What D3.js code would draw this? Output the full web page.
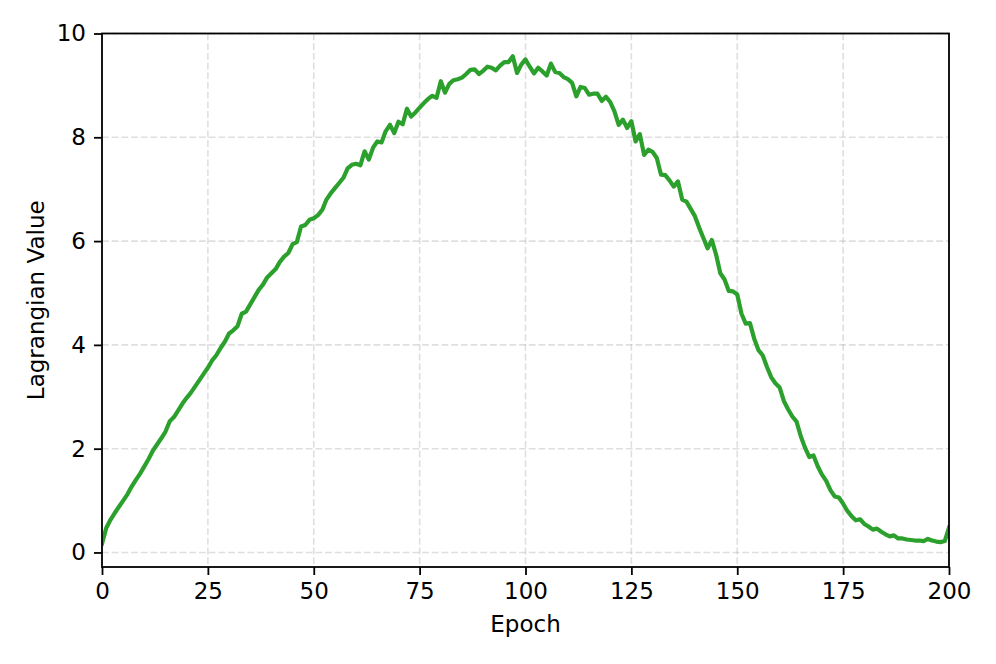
<!DOCTYPE html>
<html>
<head>
<meta charset="utf-8">
<script src="https://cdn.jsdelivr.net/npm/d3@7"></script>
<style>
  html, body { margin: 0; padding: 0; background: #fff; }
  svg { display: block; }
  text { font-family: "DejaVu Sans", sans-serif; fill: #000; }
</style>
</head>
<body>
<svg id="chart" width="996" height="664"></svg>
<script>
// ---- data ----
const epochs = d3.range(0, 201);
const lagrangian = [
  0.17, 0.47, 0.63, 0.76, 0.88, 1.00, 1.12, 1.27, 1.40, 1.52,
  1.66, 1.80, 1.96, 2.08, 2.20, 2.33, 2.53, 2.61, 2.74, 2.87,
  2.98, 3.08, 3.20, 3.32, 3.44, 3.56, 3.70, 3.80, 3.94, 4.06,
  4.22, 4.28, 4.36, 4.60, 4.64, 4.78, 4.92, 5.06, 5.16, 5.30,
  5.38, 5.46, 5.60, 5.70, 5.77, 5.94, 5.98, 6.28, 6.31, 6.41,
  6.44, 6.50, 6.60, 6.80, 6.92, 7.02, 7.12, 7.22, 7.40, 7.47,
  7.49, 7.46, 7.73, 7.57, 7.80, 7.92, 7.90, 8.12, 8.24, 8.08,
  8.30, 8.25, 8.55, 8.40, 8.48, 8.57, 8.66, 8.74, 8.80, 8.76,
  9.08, 8.86, 9.03, 9.10, 9.12, 9.15, 9.22, 9.30, 9.31, 9.22,
  9.28, 9.36, 9.34, 9.29, 9.38, 9.45, 9.45, 9.56, 9.24, 9.40,
  9.50, 9.36, 9.23, 9.34, 9.27, 9.19, 9.42, 9.26, 9.24, 9.16,
  9.12, 9.05, 8.79, 8.97, 8.95, 8.82, 8.84, 8.84, 8.70, 8.78,
  8.68, 8.50, 8.24, 8.34, 8.18, 8.31, 7.92, 8.06, 7.66, 7.76,
  7.72, 7.60, 7.28, 7.27, 7.17, 7.05, 7.15, 6.80, 6.76, 6.62,
  6.48, 6.26, 6.06, 5.86, 6.02, 5.74, 5.38, 5.26, 5.04, 5.03,
  4.97, 4.60, 4.41, 4.42, 4.12, 3.90, 3.80, 3.58, 3.38, 3.26,
  3.18, 2.92, 2.76, 2.62, 2.52, 2.24, 2.02, 1.84, 1.87, 1.66,
  1.50, 1.38, 1.20, 1.08, 1.06, 0.94, 0.80, 0.70, 0.62, 0.64,
  0.55, 0.50, 0.44, 0.46, 0.40, 0.35, 0.31, 0.33, 0.27, 0.27,
  0.25, 0.24, 0.23, 0.23, 0.22, 0.26, 0.23, 0.21, 0.20, 0.22,
  0.48
];
const xTicks = [0, 25, 50, 75, 100, 125, 150, 175, 200];
const yTicks = [0, 2, 4, 6, 8, 10];
const xLabel = "Epoch";
const yLabel = "Lagrangian Value";

// ---- layout ----
const plot = { left: 102, right: 949, top: 33.5, bottom: 567 };
const fontSize = 23;
const svg = d3.select("#chart");

const x = d3.scaleLinear().domain([0, 200]).range([plot.left, plot.right]);
const y = d3.scaleLinear().domain([-0.28, 10.0]).range([plot.bottom, plot.top]);

// grid
const grid = svg.append("g");
grid.selectAll("line.vx").data(xTicks).join("line")
  .attr("x1", d => x(d)).attr("x2", d => x(d))
  .attr("y1", plot.top).attr("y2", plot.bottom)
  .attr("stroke", "#b0b0b0").attr("stroke-opacity", 0.4)
  .attr("stroke-width", 1.6).attr("stroke-dasharray", "6.8,2.9");
grid.selectAll("line.hy").data(yTicks).join("line")
  .attr("x1", plot.left).attr("x2", plot.right)
  .attr("y1", d => y(d)).attr("y2", d => y(d))
  .attr("stroke", "#b0b0b0").attr("stroke-opacity", 0.4)
  .attr("stroke-width", 1.6).attr("stroke-dasharray", "6.8,2.9");

// line
const clipId = "plotclip";
svg.append("clipPath").attr("id", clipId).append("rect")
  .attr("x", plot.left).attr("y", plot.top)
  .attr("width", plot.right - plot.left).attr("height", plot.bottom - plot.top);

const line = d3.line().x((d, i) => x(epochs[i])).y(d => y(d));
svg.append("path")
  .datum(lagrangian)
  .attr("clip-path", `url(#${clipId})`)
  .attr("fill", "none")
  .attr("stroke", "#2ca02c")
  .attr("stroke-width", 4.2)
  .attr("stroke-linejoin", "round")
  .attr("stroke-linecap", "square")
  .attr("d", line);

// axes
const xAxis = d3.axisBottom(x).tickValues(xTicks).tickFormat(d3.format("d")).tickSize(8).tickPadding(8);
const yAxis = d3.axisLeft(y).tickValues(yTicks).tickFormat(d3.format("d")).tickSize(8).tickPadding(8);

const gx = svg.append("g").attr("transform", `translate(0,${plot.bottom})`).call(xAxis);
const gy = svg.append("g").attr("transform", `translate(${plot.left},0)`).call(yAxis);
[gx, gy].forEach(g => {
  g.select(".domain").remove();
  g.selectAll(".tick line").attr("stroke", "#000").attr("stroke-width", 1.8);
  g.selectAll(".tick text").attr("font-size", fontSize).attr("font-family", "DejaVu Sans").attr("fill", "#000");
});

// frame
svg.append("rect")
  .attr("x", plot.left).attr("y", plot.top)
  .attr("width", plot.right - plot.left).attr("height", plot.bottom - plot.top)
  .attr("fill", "none").attr("stroke", "#000").attr("stroke-width", 1.8);

// labels
svg.append("text")
  .attr("x", (plot.left + plot.right) / 2).attr("y", 632)
  .attr("text-anchor", "middle").attr("font-size", fontSize)
  .text(xLabel);
svg.append("text")
  .attr("transform", `translate(44,${(plot.top + plot.bottom) / 2}) rotate(-90)`)
  .attr("text-anchor", "middle").attr("font-size", fontSize)
  .text(yLabel);
</script>
</body>
</html>
